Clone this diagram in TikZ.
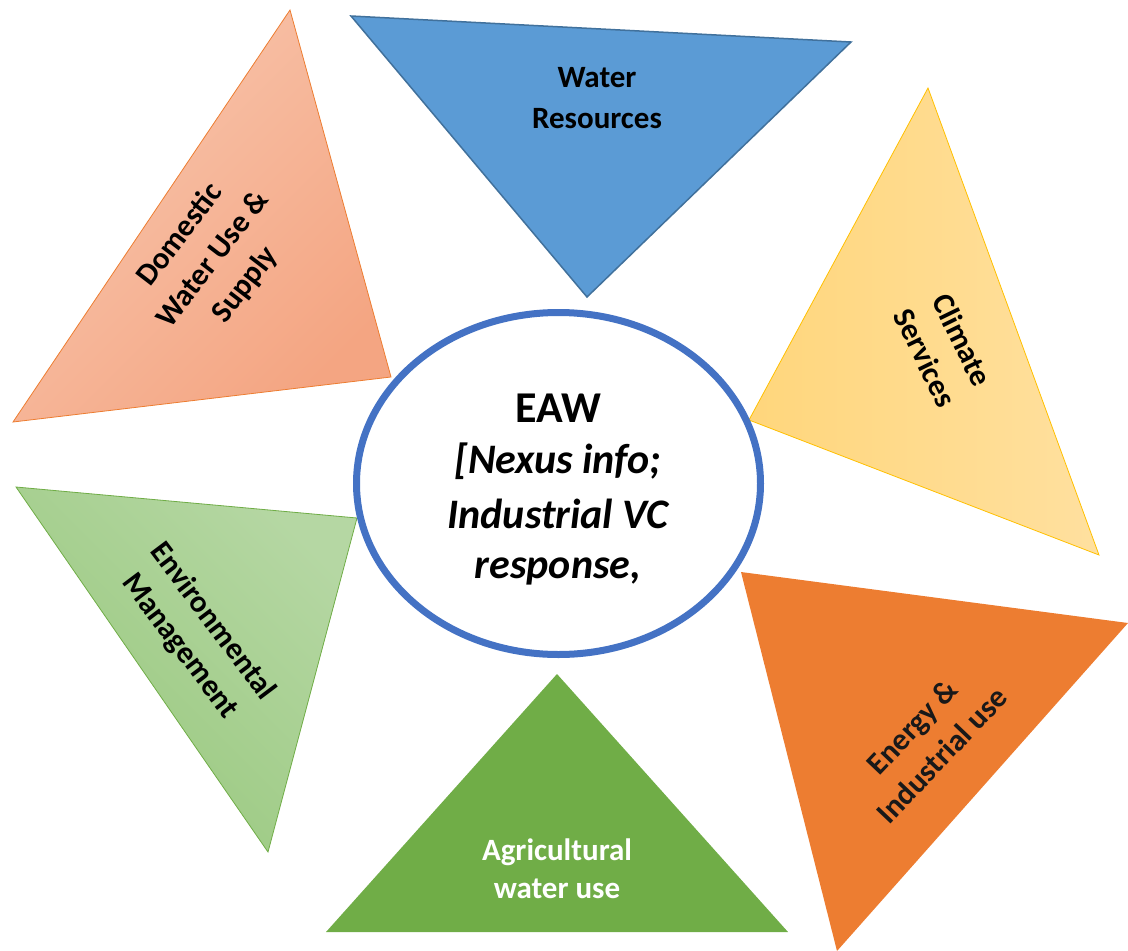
\documentclass[tikz,border=0pt]{standalone}
\usepackage{fontspec}
\setmainfont{Carlito}
\usetikzlibrary{shapes.geometric}

\definecolor{wrfill}{HTML}{5B9BD5}
\definecolor{wrline}{HTML}{41719C}
\definecolor{domlight}{HTML}{F8C6AE}
\definecolor{domdark}{HTML}{F4A582}
\definecolor{domline}{HTML}{ED7D31}
\definecolor{climlight}{HTML}{FFE09F}
\definecolor{climdark}{HTML}{FFD67C}
\definecolor{climline}{HTML}{FFC000}
\definecolor{energy}{HTML}{ED7D31}
\definecolor{agri}{HTML}{70AD47}
\definecolor{envlight}{HTML}{B5D7A3}
\definecolor{envdark}{HTML}{98C87D}
\definecolor{envline}{HTML}{70AD47}
\definecolor{eawblue}{HTML}{4472C4}

\begin{document}
\begin{tikzpicture}[x=1pt,y=-1pt,
  lbl/.style={font=\bfseries\fontsize{31}{41}\selectfont, align=center, inner sep=0pt},
  lline/.style={font=\bfseries\fontsize{31}{40}\selectfont, inner sep=0pt, anchor=base},
  hub/.style={font=\bfseries\itshape\fontsize{42}{52}\selectfont, inner sep=0pt, anchor=base}]
\useasboundingbox (0,0) rectangle (1128,951);

% Water Resources (pointing down)
\draw[draw=wrline, line width=1.5pt, fill=wrfill, line join=miter]
  (351,16) -- (851,42) -- (587,297) -- cycle;
% Domestic Water Use & Supply
\draw[draw=domline, line width=0.8pt, top color=domlight, bottom color=domdark, shading angle=45]
  (290,10) -- (391,377) -- (13,422) -- cycle;
% Climate Services
\draw[draw=climline, line width=0.8pt, left color=climdark, right color=climlight]
  (928,88) -- (1099,555) -- (749,420) -- cycle;
% Energy & Industrial use
\fill[energy] (741,572) -- (1128,623) -- (837,951) -- cycle;
% Agricultural water use
\fill[agri] (557,674) -- (788,932) -- (326,932) -- cycle;
% Environmental Management
\draw[draw=envline, line width=0.8pt, top color=envlight, bottom color=envdark, shading angle=-45]
  (16,487) -- (357,518) -- (268,852) -- cycle;

% central ellipse
\node[ellipse, draw=eawblue, line width=7pt, fill=white, inner sep=0pt,
      minimum width=404pt, minimum height=342pt] (eaw) at (558.5,483.5) {};

% central text
\node[font=\bfseries\fontsize{44}{52}\selectfont, inner sep=0pt, anchor=base] (eawtitle) at (558,422) {EAW};
\node[hub] (hub1) at (558,473) {[Nexus info;};
\node[hub] (hub2) at (558,528) {Industrial VC};
\node[hub] (hub3) at (558,578) {response,};

% surrounding labels
\node[lline] (wr1) at (597,87) {Water};
\node[lline] (wr2) at (597,128) {Resources};
\node[lline, text=white] (ag1) at (557,860) {Agricultural};
\node[lline, text=white] (ag2) at (557,898) {water use};

\node[lbl, rotate=52.5] (dom) at (213,260) {Domestic\\Water Use \&\\Supply};
\node[lbl, rotate=-64] (clim) at (944,349) {Climate\\Services};
\node[lbl, rotate=-53] (env) at (196,634) {Environmental\\Management};
\node[lbl, rotate=46.4, text=black!90] (eng) at (927,741) {Energy \&\\Industrial use};
\end{tikzpicture}
\end{document}
